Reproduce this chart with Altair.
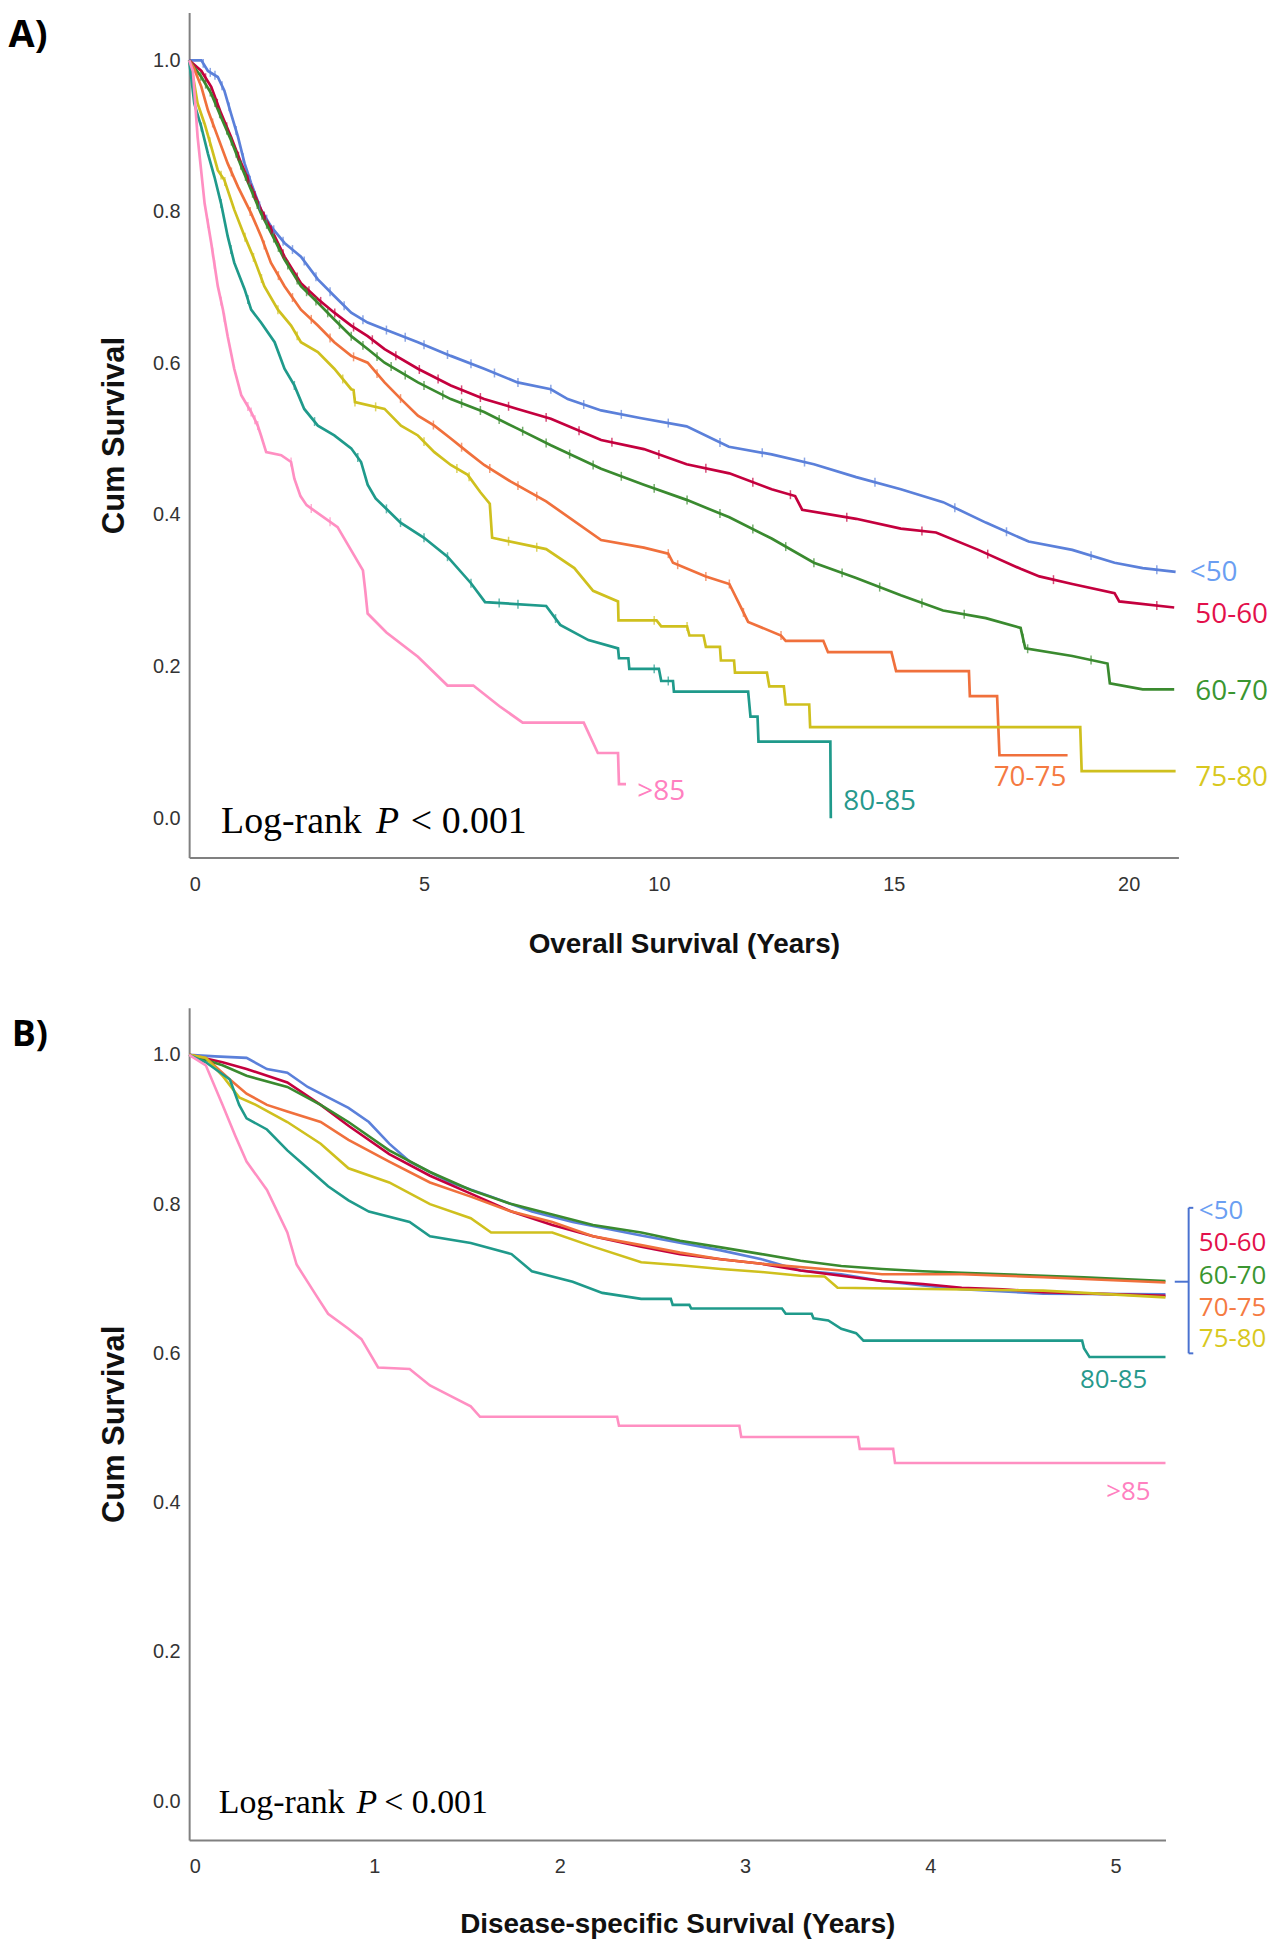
import altair as alt
import numpy as np
import pandas as pd

GROUPS = ["<50", "50-60", "60-70", "70-75", "75-80", "80-85", ">85"]
LINE_COLORS = ["#5B80DA", "#C4003E", "#3A8A2F", "#F0703C", "#CFC01E", "#1F9A8B", "#FF8FC2"]
LABEL_COLORS = ["#6A9EF2", "#E3104B", "#3A9630", "#F57A42", "#D8C81E", "#27998C", "#FF80C0"]

# ---------------- Panel A: Overall survival (years) ----------------
A_T_LT50 = [0, 0.26, 0.40, 0.61, 0.75, 0.89, 1.04, 1.18, 1.32, 1.53, 1.74, 2.03, 2.38, 2.74, 3.09, 3.45, 3.8,
            4.16, 4.87, 5.57, 6.28, 6.99, 7.7, 8.06, 8.77, 9.6, 10.59, 11.49, 12.4, 13.3, 14.2, 15.15, 16.05,
            16.96, 17.87, 18.8, 19.7, 20.3, 21.0]
A_S_LT50 = [1.0, 1.0, 0.986, 0.978, 0.96, 0.93, 0.899, 0.864, 0.838, 0.803, 0.781, 0.759, 0.741, 0.711, 0.689,
            0.667, 0.654, 0.645, 0.628, 0.61, 0.593, 0.575, 0.566, 0.553, 0.538, 0.528, 0.517, 0.490, 0.480,
            0.467, 0.450, 0.434, 0.417, 0.390, 0.365, 0.354, 0.337, 0.330, 0.325]
A_T_5060 = [0, 0.26, 0.47, 0.68, 0.89, 1.11, 1.32, 1.53, 1.82, 2.03, 2.38, 2.74, 3.09, 3.45, 3.8, 4.16, 4.87,
            5.57, 6.28, 6.99, 7.7, 8.77, 9.68, 10.59, 11.5, 12.4, 12.9, 13.05, 14.2, 15.15, 15.9, 16.8, 17.7,
            18.1, 18.8, 19.7, 19.8, 20.97]
A_S_5060 = [1.0, 0.986, 0.965, 0.93, 0.899, 0.864, 0.833, 0.803, 0.768, 0.741, 0.706, 0.685, 0.667, 0.65, 0.636,
            0.619, 0.593, 0.571, 0.553, 0.54, 0.527, 0.499, 0.487, 0.467, 0.455, 0.434, 0.425, 0.407, 0.395,
            0.382, 0.377, 0.354, 0.329, 0.319, 0.309, 0.297, 0.286, 0.278]
A_T_6070 = [0, 0.26, 0.47, 0.68, 0.89, 1.11, 1.32, 1.53, 1.82, 2.03, 2.38, 2.74, 3.09, 3.45, 3.8, 4.16, 4.87,
            5.57, 6.28, 6.99, 7.7, 8.77, 9.68, 10.59, 11.5, 12.4, 13.3, 14.2, 15.15, 16.05, 16.96, 17.7, 17.8,
            18.8, 19.55, 19.6, 20.3, 20.97]
A_S_6070 = [1.0, 0.978, 0.956, 0.925, 0.895, 0.86, 0.829, 0.798, 0.763, 0.737, 0.702, 0.68, 0.658, 0.636, 0.619,
            0.601, 0.575, 0.553, 0.536, 0.514, 0.492, 0.461, 0.44, 0.42, 0.397, 0.369, 0.337, 0.317, 0.294,
            0.274, 0.264, 0.251, 0.224, 0.214, 0.204, 0.178, 0.170, 0.170]
A_T_7075 = [0, 0.1, 0.26, 0.40, 0.61, 0.82, 1.04, 1.32, 1.53, 1.74, 2.03, 2.38, 2.74, 3.09, 3.45, 3.8, 4.16,
            4.51, 4.87, 5.22, 5.57, 5.93, 6.28, 6.85, 7.6, 8.77, 9.68, 10.2, 10.3, 11.0, 11.5, 11.7, 11.9, 12.6,
            12.7, 13.5, 13.6, 14.95, 15.05, 16.6, 16.62, 17.2, 17.25, 18.7]
A_S_7075 = [1.0, 0.99, 0.965, 0.934, 0.899, 0.864, 0.833, 0.798, 0.768, 0.733, 0.702, 0.671, 0.65, 0.628, 0.61,
            0.601, 0.575, 0.553, 0.531, 0.518, 0.501, 0.483, 0.466, 0.444, 0.418, 0.367, 0.357, 0.349, 0.337,
            0.319, 0.309, 0.284, 0.259, 0.241, 0.234, 0.234, 0.219, 0.219, 0.194, 0.194, 0.161, 0.161, 0.083,
            0.083]
A_T_7580 = [0, 0.08, 0.18, 0.33, 0.47, 0.61, 0.75, 0.96, 1.18, 1.39, 1.6, 1.89, 2.17, 2.38, 2.74, 3.09, 3.45,
            3.5, 3.53, 4.16, 4.51, 4.87, 5.22, 5.57, 5.93, 6.2, 6.4, 6.45, 7.6, 8.2, 8.6, 9.13, 9.14, 9.95,
            10.05, 10.6, 10.65, 10.95, 11.0, 11.3, 11.32, 11.6, 11.62, 12.3, 12.35, 12.66, 12.7, 13.2, 13.22,
            18.97, 19.0, 21.0]
A_S_7580 = [1.0, 0.98, 0.943, 0.916, 0.886, 0.855, 0.842, 0.803, 0.768, 0.737, 0.702, 0.671, 0.65, 0.628, 0.615,
            0.593, 0.566, 0.565, 0.549, 0.54, 0.518, 0.505, 0.483, 0.466, 0.453, 0.43, 0.415, 0.37, 0.355, 0.33,
            0.30, 0.286, 0.261, 0.261, 0.253, 0.253, 0.241, 0.241, 0.226, 0.226, 0.208, 0.208, 0.192, 0.192,
            0.174, 0.174, 0.150, 0.150, 0.120, 0.120, 0.062, 0.062]
A_T_8085 = [0, 0.05, 0.11, 0.26, 0.40, 0.54, 0.68, 0.82, 0.96, 1.18, 1.32, 1.53, 1.82, 2.03, 2.24, 2.45, 2.74,
            3.09, 3.45, 3.66, 3.8, 3.97, 4.5, 5.0, 5.5, 6.0, 6.3, 7.6, 7.9, 8.5, 9.13, 9.15, 9.35, 9.37, 10.0,
            10.05, 10.3, 10.32, 11.9, 11.95, 12.1, 12.12, 13.65, 13.66]
A_S_8085 = [1.0, 0.975, 0.943, 0.912, 0.877, 0.846, 0.811, 0.768, 0.733, 0.698, 0.671, 0.654, 0.628, 0.593,
            0.571, 0.54, 0.518, 0.505, 0.488, 0.47, 0.44, 0.422, 0.39, 0.37, 0.345, 0.31, 0.285, 0.28, 0.255,
            0.235, 0.224, 0.211, 0.211, 0.197, 0.197, 0.181, 0.181, 0.167, 0.167, 0.134, 0.134, 0.101, 0.101,
            0.0]
A_T_GT85 = [0, 0.08, 0.18, 0.33, 0.47, 0.61, 0.72, 0.82, 0.96, 1.11, 1.32, 1.46, 1.53, 1.64, 1.96, 2.17, 2.24,
            2.37, 2.5, 3.16, 3.7, 3.75, 3.8, 4.2, 4.87, 5.5, 6.05, 6.6, 7.1, 8.4, 8.7, 9.13, 9.15, 9.3]
A_S_GT85 = [1.0, 0.986, 0.899, 0.811, 0.759, 0.702, 0.671, 0.636, 0.593, 0.558, 0.536, 0.518, 0.505, 0.483,
            0.479, 0.47, 0.448, 0.425, 0.413, 0.384, 0.327, 0.30, 0.27, 0.245, 0.213, 0.175, 0.175, 0.148,
            0.126, 0.126, 0.086, 0.086, 0.045, 0.045]

# censoring marks (years) read from the "+" ticks
A_C_LT50 = [0.3, 0.45, 0.55, 0.7, 0.85, 1.0, 1.15, 1.3, 1.5, 1.65, 1.8, 2.0, 2.2, 2.45, 2.7, 3.0, 3.3, 3.7,
            4.2, 4.6, 5.0, 5.5, 6.0, 6.5, 7.0, 7.7, 8.4, 9.2, 10.2, 11.3, 12.2, 13.1, 14.6, 16.3, 17.4, 19.2,
            20.6]
A_C_5060 = [0.35, 0.6, 0.8, 1.05, 1.25, 1.4, 1.6, 1.75, 2.0, 2.3, 2.55, 2.8, 3.1, 3.5, 3.9, 4.4, 4.9, 5.3, 5.8,
            6.2, 6.8, 7.6, 8.3, 9.0, 10.0, 11.0, 12.0, 12.8, 14.0, 15.6, 17.0, 18.4, 20.6]
A_C_6070 = [0.25, 0.35, 0.45, 0.55, 0.65, 0.8, 0.9, 1.0, 1.1, 1.2, 1.35, 1.45, 1.55, 1.65, 1.8, 1.9, 2.1, 2.3,
            2.5, 2.7, 2.95, 3.2, 3.45, 3.7, 4.0, 4.3, 4.6, 5.0, 5.4, 5.8, 6.2, 6.6, 7.1, 7.6, 8.1, 8.6, 9.2,
            9.9, 10.6, 11.3, 12.0, 12.7, 13.3, 13.9, 14.7, 15.6, 16.5, 17.75, 17.85, 19.2]
A_C_7075 = [0.5, 0.9, 1.3, 1.6, 1.9, 2.2, 2.6, 3.0, 3.5, 4.0, 4.5, 5.2, 5.8, 6.4, 7.0, 7.4, 10.2, 10.4, 11.0,
            11.5, 11.8, 12.6]
A_C_7580 = [0.44, 0.68, 0.76, 1.19, 1.37, 1.54, 1.89, 2.3, 3.27, 3.53, 3.97, 5.0, 5.7, 5.96, 6.8, 7.4, 9.9, 10.6]
A_C_8085 = [0.26, 0.68, 0.89, 1.25, 2.24, 2.67, 3.59, 4.2, 4.5, 5.0, 5.5, 6.0, 6.6, 7.0, 7.8, 9.9, 10.2]
A_C_GT85 = [0.4, 0.5, 0.54, 0.68, 0.75, 1.25, 1.32, 1.4, 1.46, 2.17, 2.6, 3.0]

A_X_TICKS = [0, 5, 10, 15, 20]
A_LABEL_LEFT = ["<50", "50-60", "60-70", "75-80"]
A_LABEL_LEFT_X = [21.3, 21.42, 21.42, 21.42]
A_LABEL_LEFT_Y = [0.323, 0.268, 0.166, 0.053]
A_LABEL_CENTER = ["70-75", "80-85", ">85"]
A_LABEL_CENTER_X = [17.9, 14.7, 10.05]
A_LABEL_CENTER_Y = [0.053, 0.021, 0.035]

# ---------------- Panel B: Disease-specific survival (years) ----------------
B_T_LT50 = [0, 0.14, 0.31, 0.42, 0.53, 0.64, 0.75, 0.86, 0.97, 1.08, 1.19, 1.41, 1.63, 1.85, 2.07, 2.44, 2.87,
            3.09, 3.3, 3.52, 3.74, 3.96, 4.17, 4.61, 5.27]
B_S_LT50 = [1.0, 0.998, 0.996, 0.981, 0.976, 0.957, 0.943, 0.929, 0.91, 0.881, 0.857, 0.829, 0.81, 0.79, 0.776,
            0.758, 0.738, 0.726, 0.711, 0.706, 0.697, 0.691, 0.686, 0.68, 0.679]
B_T_5060 = [0, 0.18, 0.31, 0.53, 0.71, 0.86, 1.08, 1.3, 1.52, 1.74, 1.96, 2.18, 2.44, 2.65, 2.87, 3.09, 3.3,
            3.52, 3.74, 3.96, 4.17, 4.39, 4.61, 5.27]
B_S_5060 = [1.0, 0.99, 0.981, 0.963, 0.933, 0.905, 0.867, 0.838, 0.814, 0.79, 0.772, 0.757, 0.743, 0.733, 0.726,
            0.72, 0.711, 0.704, 0.697, 0.693, 0.688, 0.686, 0.682, 0.677]
B_T_6070 = [0, 0.18, 0.31, 0.53, 0.71, 0.86, 1.08, 1.3, 1.52, 1.74, 1.96, 2.18, 2.44, 2.65, 2.87, 3.09, 3.3,
            3.52, 3.74, 3.96, 4.17, 4.61, 4.83, 5.27]
B_S_6070 = [1.0, 0.986, 0.972, 0.957, 0.933, 0.91, 0.872, 0.843, 0.819, 0.80, 0.786, 0.772, 0.762, 0.751, 0.742,
            0.733, 0.724, 0.717, 0.713, 0.71, 0.708, 0.704, 0.702, 0.697]
B_T_7075 = [0, 0.09, 0.22, 0.31, 0.42, 0.53, 0.71, 0.86, 1.08, 1.3, 1.52, 1.74, 1.96, 2.18, 2.44, 2.65, 2.87,
            3.09, 3.52, 3.74, 4.17, 4.61, 5.27]
B_S_7075 = [1.0, 0.996, 0.967, 0.948, 0.933, 0.924, 0.91, 0.886, 0.857, 0.829, 0.81, 0.79, 0.776, 0.757, 0.745,
            0.735, 0.726, 0.72, 0.711, 0.706, 0.706, 0.702, 0.695]
B_T_7580 = [0, 0.09, 0.18, 0.27, 0.36, 0.53, 0.71, 0.86, 1.08, 1.3, 1.52, 1.63, 1.96, 2.18, 2.44, 2.65, 2.87,
            3.09, 3.3, 3.43, 3.5, 4.61, 5.27]
B_S_7580 = [1.0, 0.996, 0.972, 0.943, 0.933, 0.91, 0.881, 0.848, 0.829, 0.80, 0.781, 0.762, 0.762, 0.743, 0.722,
            0.718, 0.713, 0.709, 0.704, 0.703, 0.688, 0.684, 0.675]
B_T_8085 = [0, 0.09, 0.22, 0.27, 0.31, 0.42, 0.53, 0.64, 0.75, 0.86, 0.97, 1.19, 1.3, 1.52, 1.74, 1.85, 2.07,
            2.23, 2.44, 2.6, 2.61, 2.7, 2.71, 3.2, 3.22, 3.36, 3.37, 3.45, 3.52, 3.6, 3.64, 4.82, 4.83, 4.86, 5.27]
B_S_8085 = [1.0, 0.99, 0.967, 0.933, 0.915, 0.90, 0.872, 0.848, 0.824, 0.805, 0.79, 0.776, 0.757, 0.748, 0.733,
            0.71, 0.696, 0.681, 0.673, 0.673, 0.665, 0.665, 0.66, 0.66, 0.653, 0.653, 0.647, 0.644, 0.633, 0.627,
            0.617, 0.617, 0.607, 0.595, 0.595]
B_T_GT85 = [0, 0.09, 0.18, 0.25, 0.31, 0.42, 0.53, 0.58, 0.69, 0.75, 0.86, 0.93, 1.02, 1.19, 1.3, 1.41, 1.52,
            1.57, 2.31, 2.32, 2.97, 2.98, 3.61, 3.62, 3.8, 3.81, 5.27]
B_S_GT85 = [1.0, 0.986, 0.933, 0.891, 0.857, 0.819, 0.762, 0.719, 0.676, 0.653, 0.633, 0.619, 0.581, 0.579,
            0.557, 0.543, 0.529, 0.515, 0.515, 0.503, 0.503, 0.488, 0.488, 0.472, 0.472, 0.453, 0.453]

B_X_TICKS = [0, 1, 2, 3, 4, 5]
B_LABEL_LEFT = ["<50", "50-60", "60-70", "70-75", "75-80"]
B_LABEL_LEFT_X = [5.45, 5.45, 5.45, 5.45, 5.45]
B_LABEL_LEFT_Y = [0.791, 0.748, 0.704, 0.661, 0.619]
B_LABEL_CENTER = ["80-85", ">85"]
B_LABEL_CENTER_X = [4.99, 5.07]
B_LABEL_CENTER_Y = [0.564, 0.414]

Y_TICKS = [0.0, 0.2, 0.4, 0.6, 0.8, 1.0]
Y_DOMAIN = [-0.052, 1.063]

A_CURVES = [(A_T_LT50, A_S_LT50), (A_T_5060, A_S_5060), (A_T_6070, A_S_6070), (A_T_7075, A_S_7075),
            (A_T_7580, A_S_7580), (A_T_8085, A_S_8085), (A_T_GT85, A_S_GT85)]
A_CENSOR = [A_C_LT50, A_C_5060, A_C_6070, A_C_7075, A_C_7580, A_C_8085, A_C_GT85]
B_CURVES = [(B_T_LT50, B_S_LT50), (B_T_5060, B_S_5060), (B_T_6070, B_S_6070), (B_T_7075, B_S_7075),
            (B_T_7580, B_S_7580), (B_T_8085, B_S_8085), (B_T_GT85, B_S_GT85)]

AXIS_GRAY = "#808080"
LABEL_FONT = "Open Sans"


def curves_frame(curves):
    rows = []
    for gi, (ts, ss) in enumerate(curves):
        for i, (t, s) in enumerate(zip(ts, ss)):
            rows.append({"group": GROUPS[gi], "gi": gi, "i": i, "t": t, "s": s})
    return pd.DataFrame(rows)


def censor_frame(curves, censors):
    rows = []
    for gi, ((ts, ss), cs) in enumerate(zip(curves, censors)):
        for c in cs:
            rows.append({"group": GROUPS[gi], "t": c, "s": float(np.interp(c, ts, ss))})
    return pd.DataFrame(rows)


def label_frame(names, xs, ys):
    return pd.DataFrame({"label": names, "x": xs, "y": ys,
                         "col": [LABEL_COLORS[GROUPS.index(n)] for n in names]})


def panel(curves, censors, x_max, x_ticks, x_title, width, height, line_w,
          left_labels, center_labels, label_size, letter, letter_pos, letter_size,
          logrank_pos, logrank_size, title_y, bracket=None):
    xs = alt.Scale(domain=[0, x_max], nice=False, zero=False)
    ys = alt.Scale(domain=Y_DOMAIN, nice=False, zero=False)
    color = alt.Color("group:N", scale=alt.Scale(domain=GROUPS, range=LINE_COLORS), legend=None)

    x_axis = alt.Axis(values=x_ticks, format="d", title=x_title, grid=False, ticks=False,
                      domainColor=AXIS_GRAY, domainWidth=2, labelFont="Liberation Sans",
                      labelFontSize=20, labelColor="#333333", labelPadding=17,
                      titleFont="Liberation Sans", titleFontSize=28, titleFontWeight="bold",
                      titleColor="#111111", titleY=title_y, titleBaseline="middle")
    y_axis = alt.Axis(values=Y_TICKS, format=".1f", title="Cum Survival", grid=False, ticks=False,
                      domainColor=AXIS_GRAY, domainWidth=2, labelFont="Liberation Sans",
                      labelFontSize=20, labelColor="#333333", labelPadding=9,
                      titleFont="Liberation Sans", titleFontSize=31, titleFontWeight="bold",
                      titleColor="#111111", titleX=-75, titleBaseline="middle")

    df = curves_frame(curves)
    lines = alt.Chart(df).mark_line(strokeWidth=line_w, interpolate="linear").encode(
        x=alt.X("t:Q", scale=xs, axis=x_axis),
        y=alt.Y("s:Q", scale=ys, axis=y_axis),
        color=color,
        detail="gi:N",
        order="i:Q",
    )
    layers = [lines]

    if censors is not None:
        cdf = censor_frame(curves, censors)
        ticks = alt.Chart(cdf).mark_tick(orient="vertical", size=9, thickness=1.5).encode(
            x=alt.X("t:Q", scale=xs), y=alt.Y("s:Q", scale=ys), color=color)
        layers.append(ticks)

    ldf = label_frame(*left_labels)
    layers.append(alt.Chart(ldf).mark_text(font=LABEL_FONT, fontSize=label_size, align="left",
                                           baseline="middle").encode(
        x=alt.X("x:Q", scale=xs), y=alt.Y("y:Q", scale=ys), text="label:N",
        color=alt.Color("col:N", scale=None)))
    cdf2 = label_frame(*center_labels)
    layers.append(alt.Chart(cdf2).mark_text(font=LABEL_FONT, fontSize=label_size, align="center",
                                            baseline="middle").encode(
        x=alt.X("x:Q", scale=xs), y=alt.Y("y:Q", scale=ys), text="label:N",
        color=alt.Color("col:N", scale=None)))

    if bracket is not None:
        bdf = pd.DataFrame(bracket, columns=["x", "y", "x2", "y2"])
        layers.append(alt.Chart(bdf).mark_rule(color="#4A72D0", strokeWidth=2).encode(
            x=alt.X("x:Q", scale=xs), y=alt.Y("y:Q", scale=ys), x2="x2:Q", y2="y2:Q"))

    # panel letter (top-anchored so it does not stretch the chart upward)
    pdf = pd.DataFrame({"x": [letter_pos[0]], "y": [letter_pos[1]], "label": [letter]})
    layers.append(alt.Chart(pdf).mark_text(font="Open Sans", fontWeight="bold", fontSize=letter_size,
                                           align="center", baseline="top", color="black").encode(
        x=alt.X("x:Q", scale=xs), y=alt.Y("y:Q", scale=ys), text="label:N"))

    # Log-rank annotation (three parts, italic P)
    lx, px, qx, ly = logrank_pos
    parts = [("Log-rank", lx, "normal"), ("P", px, "italic"), ("< 0.001", qx, "normal")]
    for txt, xx, style in parts:
        tdf = pd.DataFrame({"x": [xx], "y": [ly], "label": [txt]})
        layers.append(alt.Chart(tdf).mark_text(font="Liberation Serif", fontSize=logrank_size,
                                               fontStyle=style, align="left", baseline="alphabetic",
                                               color="black").encode(
            x=alt.X("x:Q", scale=xs), y=alt.Y("y:Q", scale=ys), text="label:N"))

    return alt.layer(*layers).properties(width=width, height=height)


chart_a = panel(A_CURVES, A_CENSOR, 21.06, A_X_TICKS, "Overall Survival (Years)", 994, 849, 2.7,
                (A_LABEL_LEFT, A_LABEL_LEFT_X, A_LABEL_LEFT_Y),
                (A_LABEL_CENTER, A_LABEL_CENTER_X, A_LABEL_CENTER_Y), 28,
                "A)", (-3.43, 1.0564), 38, (0.68, 3.98, 4.72, -0.0197), 38, 87)

BRACKET = [(5.395, 0.600, 5.395, 0.795), (5.395, 0.795, 5.42, 0.795),
           (5.395, 0.600, 5.42, 0.600), (5.32, 0.696, 5.395, 0.696)]

chart_b = panel(B_CURVES, None, 5.27, B_X_TICKS, "Disease-specific Survival (Years)", 981, 836, 2.6,
                (B_LABEL_LEFT, B_LABEL_LEFT_X, B_LABEL_LEFT_Y),
                (B_LABEL_CENTER, B_LABEL_CENTER_X, B_LABEL_CENTER_Y), 26,
                "B)", (-0.86, 1.0497), 36, (0.16, 0.903, 1.053, -0.016), 34, 85, bracket=BRACKET)

chart = alt.vconcat(chart_a, chart_b, spacing=50).properties(
    padding=0, background="white"
).configure_view(stroke="transparent", strokeWidth=0)

chart.save("out.html", embed_options={"renderer": "svg", "actions": False})
